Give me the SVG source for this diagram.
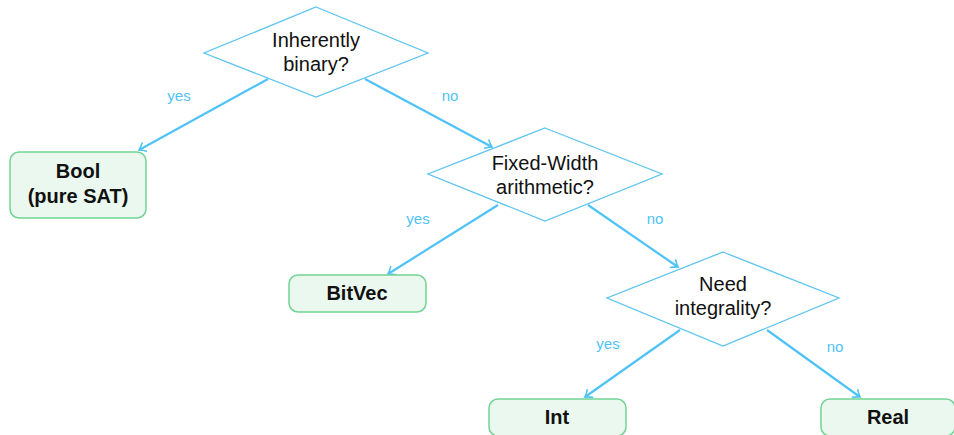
<svg xmlns="http://www.w3.org/2000/svg" width="954" height="435" viewBox="0 0 954 435">
<defs>
<style>
.dia{fill:#ffffff;stroke:#5cc4ef;stroke-width:1.3}
.box{fill:#ebf8ef;stroke:#72d394;stroke-width:1.5}
.qt{font-family:"Liberation Sans",Arial,sans-serif;font-size:20px;fill:#111;text-anchor:middle}
.bt{font-family:"Liberation Sans",Arial,sans-serif;font-size:20px;font-weight:bold;fill:#111;text-anchor:middle}
.lbl{font-family:"Liberation Sans",Arial,sans-serif;font-size:15px;fill:#4fc3f7;text-anchor:middle}
.edge{stroke:#4fc3f7;stroke-width:2.2;fill:none}
</style>
<marker id="arr" viewBox="-8 -6 10 12" refX="0" refY="0" markerWidth="10" markerHeight="12" markerUnits="userSpaceOnUse" orient="auto">
<path d="M -6.5,-5 Q -2,-1 0,0 Q -2,1 -6.5,5" fill="none" stroke="#4fc3f7" stroke-width="1.6"/>
</marker>
</defs>
<g id="connectors">
<line class="edge" x1="268" y1="79" x2="139" y2="150" marker-end="url(#arr)"/>
<line class="edge" x1="365" y1="79" x2="492" y2="147" marker-end="url(#arr)"/>
<line class="edge" x1="498" y1="205" x2="388" y2="274" marker-end="url(#arr)"/>
<line class="edge" x1="588" y1="205" x2="678" y2="267" marker-end="url(#arr)"/>
<line class="edge" x1="680" y1="330" x2="585" y2="397" marker-end="url(#arr)"/>
<line class="edge" x1="767" y1="330" x2="860" y2="397" marker-end="url(#arr)"/>
<text class="lbl" x="179" y="101">yes</text>
<text class="lbl" x="450" y="101">no</text>
<text class="lbl" x="418" y="224">yes</text>
<text class="lbl" x="655" y="224">no</text>
<text class="lbl" x="608" y="349">yes</text>
<text class="lbl" x="835" y="352">no</text>
</g>
<g id="q1">
<polygon class="dia" points="316,7 428,53 316,97 204,53"/>
<text class="qt" x="316" y="47">Inherently</text>
<text class="qt" x="316" y="71">binary?</text>
</g>
<g id="q2">
<polygon class="dia" points="545,128 662,174 545,221 428,174"/>
<text class="qt" x="545" y="170">Fixed-Width</text>
<text class="qt" x="545" y="194">arithmetic?</text>
</g>
<g id="q3">
<polygon class="dia" points="723,252 839,298 723,346 607,298"/>
<text class="qt" x="723" y="291">Need</text>
<text class="qt" x="723" y="315">integrality?</text>
</g>
<g id="bool">
<rect class="box" x="10" y="152" width="136" height="66" rx="9"/>
<text class="bt" x="78" y="178">Bool</text>
<text class="bt" x="78" y="203">(pure SAT)</text>
</g>
<g id="bitvec">
<rect class="box" x="289" y="275" width="137" height="37" rx="9"/>
<text class="bt" x="357" y="300">BitVec</text>
</g>
<g id="int">
<rect class="box" x="489" y="399" width="137" height="37" rx="9"/>
<text class="bt" x="557" y="424">Int</text>
</g>
<g id="real">
<rect class="box" x="821" y="399" width="134" height="37" rx="9"/>
<text class="bt" x="888" y="424">Real</text>
</g>
</svg>
